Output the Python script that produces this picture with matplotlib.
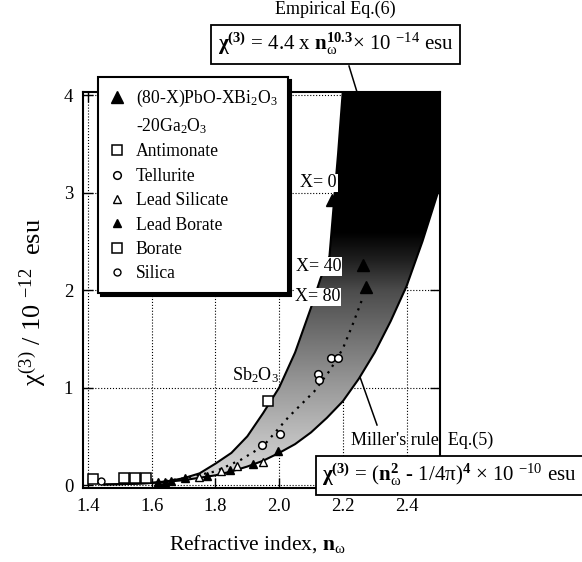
import numpy as np
import matplotlib
matplotlib.use("Agg")
import matplotlib.pyplot as plt
from matplotlib.lines import Line2D
from matplotlib.patches import Polygon
from matplotlib.colors import LinearSegmentedColormap

plt.rcParams['font.family'] = ['Liberation Serif', 'DejaVu Serif']
plt.rcParams['mathtext.fontset'] = 'custom'
plt.rcParams['mathtext.rm'] = 'Liberation Serif'
plt.rcParams['mathtext.it'] = 'Liberation Serif'
plt.rcParams['mathtext.bf'] = 'Liberation Serif:bold'

# --- data ---
# Miller's rule curve Eq.(5)
lower_n = [1.45, 1.50, 1.55, 1.60, 1.65, 1.70, 1.75, 1.80, 1.85, 1.90, 1.95,
           2.00, 2.05, 2.10, 2.15, 2.20, 2.25, 2.30, 2.35, 2.40, 2.45, 2.51]
lower_chi = [0.006, 0.009, 0.014, 0.022, 0.035, 0.05, 0.075, 0.10, 0.14, 0.19, 0.25,
             0.33, 0.42, 0.54, 0.69, 0.86, 1.09, 1.36, 1.68, 2.04, 2.50, 3.12]
# empirical curve Eq.(6)
upper_n = [1.45, 1.50, 1.55, 1.60, 1.65, 1.70, 1.75, 1.80, 1.85, 1.90, 1.95,
           2.00, 2.05, 2.10, 2.13, 2.158, 2.172, 2.185, 2.20]
upper_chi = [0.006, 0.009, 0.014, 0.022, 0.04, 0.07, 0.12, 0.22, 0.33, 0.50, 0.74,
             1.00, 1.36, 1.82, 2.12, 2.35, 2.90, 3.40, 4.05]
# dotted trend through the points
fit_n = [1.62, 1.70, 1.80, 1.88, 1.95, 2.03, 2.11, 2.16, 2.20, 2.23, 2.26]
fit_chi = [0.03, 0.07, 0.14, 0.26, 0.40, 0.70, 0.96, 1.18, 1.40, 1.64, 1.90]

pbbi_n = [2.166, 2.264, 2.274]
pbbi_chi = [2.92, 2.26, 2.03]
pbbi_labels = ["X= 0", "X= 40", "X= 80"]
antimonate_n = [1.965]
antimonate_chi = [0.86]
tellurite_n = [1.946, 2.004, 2.123, 2.126, 2.162, 2.185]
tellurite_chi = [0.41, 0.52, 1.14, 1.08, 1.30, 1.30]
lead_silicate_n = [1.748, 1.818, 1.868, 1.948]
lead_silicate_chi = [0.08, 0.145, 0.195, 0.24]
lead_borate_n = [1.62, 1.64, 1.66, 1.703, 1.774, 1.846, 1.918, 1.996]
lead_borate_chi = [0.03, 0.035, 0.04, 0.07, 0.09, 0.155, 0.215, 0.35]
borate_n = [1.414, 1.513, 1.548, 1.581]
borate_chi = [0.06, 0.07, 0.07, 0.07]
silica_n = [1.44]
silica_chi = [0.04]

xticks = [1.4, 1.6, 1.8, 2.0, 2.2, 2.4]
yticks = [0, 1, 2, 3, 4]

# --- figure ---
fig = plt.figure(figsize=(5.82, 5.62), dpi=100)
ax = fig.add_axes([0.1426, 0.1317, 0.6134, 0.7051])
xlim = (1.384, 2.505)
ylim = (-0.03, 4.035)

# shaded band between the two curves, light at the bottom and black at the top
verts = list(zip(upper_n, upper_chi)) + [(2.6, 4.2)] + list(zip(lower_n, lower_chi))[::-1]
band = Polygon(verts, closed=True, facecolor='none', edgecolor='none')
ax.add_patch(band)
cmap = LinearSegmentedColormap.from_list('band', [
    (0.0, (0.86, 0.86, 0.86)), (0.125, (0.74, 0.74, 0.74)), (0.25, (0.6, 0.6, 0.6)),
    (0.37, (0.45, 0.45, 0.45)), (0.49, (0.3, 0.3, 0.3)), (0.57, (0.12, 0.12, 0.12)),
    (0.64, (0, 0, 0)), (1.0, (0, 0, 0))])
grad = np.linspace(0, 1, 256).reshape(-1, 1)
im = ax.imshow(grad, extent=[1.38, 2.6, 0, 4.05], origin='lower', aspect='auto',
               cmap=cmap, interpolation='bilinear', zorder=1)
im.set_clip_path(band)

ax.plot(lower_n, lower_chi, color='k', lw=1.5, zorder=2)
ax.plot(upper_n, upper_chi, color='k', lw=1.5, zorder=2)
ax.plot(fit_n, fit_chi, color='k', lw=1.6, ls=(0, (1, 2.5)), zorder=3)

h_pbbi, = ax.plot(pbbi_n, pbbi_chi, ls='none', marker='^', ms=8.5, mfc='k', mec='k', zorder=4,
                  label="(80-X)PbO-XBi$_2$O$_3$")
h_ant, = ax.plot(antimonate_n, antimonate_chi, ls='none', marker='s', ms=7.5, mfc='white',
                 mec='k', mew=1.1, zorder=4, label="Antimonate")
h_tel, = ax.plot(tellurite_n, tellurite_chi, ls='none', marker='o', ms=5.5, mfc='white',
                 mec='k', mew=1.1, zorder=4, label="Tellurite")
h_ls, = ax.plot(lead_silicate_n, lead_silicate_chi, ls='none', marker='^', ms=6, mfc='white',
                mec='k', mew=1.0, zorder=4, label="Lead Silicate")
h_lb, = ax.plot(lead_borate_n, lead_borate_chi, ls='none', marker='^', ms=6, mfc='k',
                mec='k', zorder=4, label="Lead Borate")
h_bor, = ax.plot(borate_n, borate_chi, ls='none', marker='s', ms=7, mfc='white',
                 mec='k', mew=1.1, zorder=4, label="Borate")
h_sil, = ax.plot(silica_n, silica_chi, ls='none', marker='o', ms=5, mfc='white',
                 mec='k', mew=1.0, zorder=4, label="Silica")

# labels for the PbO-Bi2O3-Ga2O3 glasses
label_pos = [(2.181, 3.10), (2.195, 2.24), (2.192, 1.93)]
for (lx, ly), txt in zip(label_pos, pbbi_labels):
    ax.text(lx, ly, txt, ha='right', va='center', fontsize=13, zorder=5,
            bbox=dict(facecolor='white', edgecolor='none', pad=0.5))
ax.text(1.925, 1.13, "Sb$_2$O$_3$", ha='center', va='center', fontsize=13, zorder=5)

ax.set_xlim(*xlim)
ax.set_ylim(*ylim)
ax.set_xticks(xticks)
ax.set_xticklabels([f"{v:.1f}" for v in xticks])
ax.set_yticks(yticks)
ax.set_yticklabels([str(v) for v in yticks])
ax.tick_params(direction='in', length=7, width=1, top=True, right=True, labelsize=13.5, pad=7)
ax.set_axisbelow(True)
ax.grid(True, ls=':', color='k', lw=0.8)
for sp in ax.spines.values():
    sp.set_linewidth(1.5)

ax.set_xlabel(r"Refractive index, $\mathbf{n}_{\omega}$", fontsize=15.5, labelpad=16)
ax.xaxis.set_label_coords(0.49, -0.115)
ax.set_ylabel(r"$\chi^{(3)}$ / 10 $^{-12}$  esu", fontsize=19)
ax.yaxis.set_label_coords(-0.095, 0.47)

# legend
h_blank = Line2D([], [], ls='none', label="-20Ga$_2$O$_3$")
handles = [h_pbbi, h_blank, h_ant, h_tel, h_ls, h_lb, h_bor, h_sil]
leg = ax.legend(handles, [h.get_label() for h in handles],
                loc='upper left', bbox_to_anchor=(0.042, 1.037), borderaxespad=0,
                fontsize=12.7, frameon=True, fancybox=False, framealpha=1, edgecolor='k',
                shadow={'color': 'k', 'alpha': 1}, handlelength=1.0, handletextpad=0.55,
                labelspacing=0.42, borderpad=0.6)
leg.get_frame().set_linewidth(1.5)
leg.set_zorder(10)

# equation boxes
fig.text(335.5 / 582, 1 - 9 / 562, "Empirical Eq.(6)", ha='center', va='center', fontsize=13)
fig.text(335.5 / 582, 1 - 44 / 562,
         r"$\mathbf{\chi^{(3)}}$ = 4.4 x $\mathbf{n}_{\omega}^{\mathbf{10.3}}$× 10 $^{-14}$ esu",
         ha='center', va='center', fontsize=15,
         bbox=dict(facecolor='white', edgecolor='k', lw=1.3, boxstyle='square,pad=0.3'))
fig.add_artist(Line2D([349 / 582, 357 / 582], [1 - 66 / 562, 1 - 92 / 562], color='k', lw=1.1))

fig.text(422 / 582, 1 - 440 / 562, "Miller's rule  Eq.(5)", ha='center', va='center', fontsize=13)
fig.text(322 / 582, 1 - 475 / 562,
         r"$\mathbf{\chi^{(3)}}$ = ($\mathbf{n}_{\omega}^{\mathbf{2}}$ - 1/4π)$^{\mathbf{4}}$ × 10 $^{-10}$ esu",
         ha='left', va='center', fontsize=15,
         bbox=dict(facecolor='white', edgecolor='k', lw=1.3, boxstyle='square,pad=0.3'))
fig.add_artist(Line2D([377 / 582, 360 / 582], [1 - 425 / 562, 1 - 377 / 562], color='k', lw=1.1))

fig.savefig("out.png", dpi=100)
